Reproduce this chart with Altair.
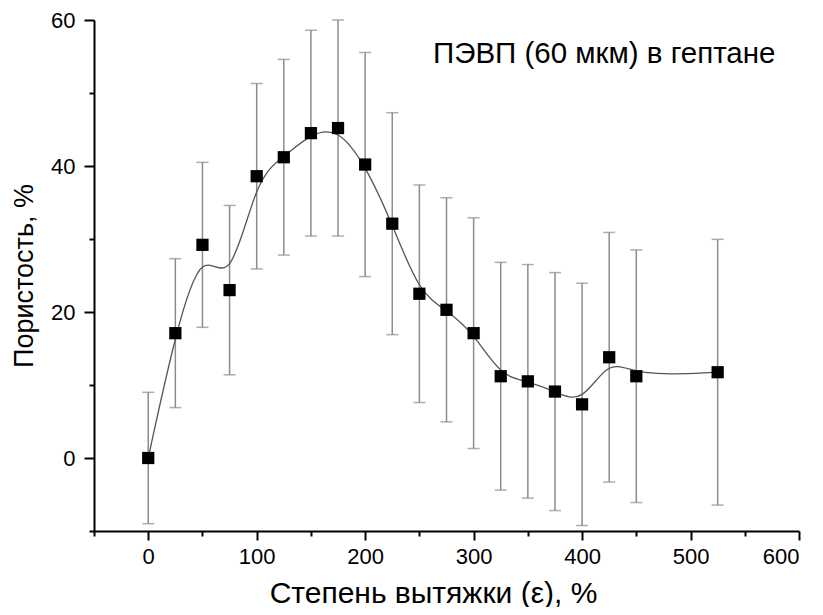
import altair as alt
import pandas as pd

# Data
strain = [0, 25, 50, 75, 100, 125, 150, 175, 200, 225, 250, 275, 300, 325, 350, 375, 400, 425, 450, 525]
porosity = [0.0, 17.1, 29.2, 23.0, 38.6, 41.2, 44.5, 45.2, 40.2, 32.1, 22.5, 20.3, 17.1, 11.2, 10.5, 9.1, 7.35, 13.8, 11.2, 11.75]
error = [9.0, 10.2, 11.3, 11.6, 12.7, 13.4, 14.1, 14.8, 15.35, 15.2, 14.9, 15.35, 15.8, 15.6, 16.0, 16.3, 16.6, 17.1, 17.3, 18.2]

x_ticks = [-50, 0, 50, 100, 150, 200, 250, 300, 350, 400, 450, 500, 550, 600]
y_ticks = [-10, 0, 10, 20, 30, 40, 50, 60]

annotation = "ПЭВП (60 мкм) в гептане"
x_title = "Степень вытяжки (ε), %"
y_title = "Пористость, %"

df = pd.DataFrame({"x": strain, "y": porosity, "e": error})

FONT = "Liberation Sans"
W, H = 705, 511

xscale = alt.Scale(domain=[-50, 600], nice=False, zero=False)
yscale = alt.Scale(domain=[-10, 60], nice=False, zero=False)

xaxis = alt.Axis(
    values=x_ticks,
    labelExpr="datum.value % 100 === 0 ? datum.label : ''",
    tickSize={"condition": {"test": "datum.value % 100 === 0", "value": 9}, "value": 5},
    labelPadding=6,
    title=x_title,
    titleFontSize=30,
    titleX=339, titleY=62, titleAlign="center", titleBaseline="middle",
)
yaxis = alt.Axis(
    values=y_ticks,
    labelExpr="datum.value % 20 === 0 ? datum.label : ''",
    tickSize={"condition": {"test": "datum.value % 20 === 0", "value": 10}, "value": 5},
    labelPadding=9,
    title=y_title,
    titleX=-70, titleY=255.5, titleAngle=270, titleAlign="center", titleBaseline="middle",
)

base = alt.Chart(df).transform_calculate(
    lo="datum.y - datum.e", hi="datum.y + datum.e"
)

x_enc = alt.X("x:Q", scale=xscale, axis=xaxis)
y_enc = alt.Y("y:Q", scale=yscale, axis=yaxis)

bars = base.mark_rule(color="#8c8c8c", strokeWidth=1.5).encode(
    x=alt.X("x:Q", scale=xscale),
    y=alt.Y("lo:Q", scale=yscale),
    y2="hi:Q",
)
cap_hi = base.mark_tick(color="#8c8c8c", orient="horizontal", size=12, thickness=1.5).encode(
    x=alt.X("x:Q", scale=xscale), y=alt.Y("hi:Q", scale=yscale)
)
cap_lo = base.mark_tick(color="#8c8c8c", orient="horizontal", size=12, thickness=1.5).encode(
    x=alt.X("x:Q", scale=xscale), y=alt.Y("lo:Q", scale=yscale)
)
curve = base.mark_line(interpolate="basis", color="#555555", strokeWidth=1.3).encode(
    x=x_enc, y=y_enc
)
points = base.mark_square(size=150, color="black", opacity=1).encode(
    x=alt.X("x:Q", scale=xscale), y=alt.Y("y:Q", scale=yscale)
)
label = alt.Chart(pd.DataFrame({"t": [annotation]})).mark_text(
    align="left", baseline="alphabetic", font=FONT, fontSize=29.5, color="black"
).encode(text="t:N", x=alt.value(339), y=alt.value(43))

chart = alt.layer(bars, cap_hi, cap_lo, curve, points, label).properties(
    width=W, height=H,
    autosize=alt.AutoSizeParams(type="none"),
    padding={"left": 86, "top": 12, "right": 8, "bottom": 76},
).configure_view(stroke=None).configure_axis(
    grid=False,
    domainColor="black", domainWidth=2,
    tickColor="black", tickWidth=2,
    labelFont=FONT, labelFontSize=22, labelColor="black",
    titleFont=FONT, titleFontSize=27, titleFontWeight="normal", titleColor="black",
)

chart.save("out.html", embed_options={"renderer": "svg", "actions": False})
